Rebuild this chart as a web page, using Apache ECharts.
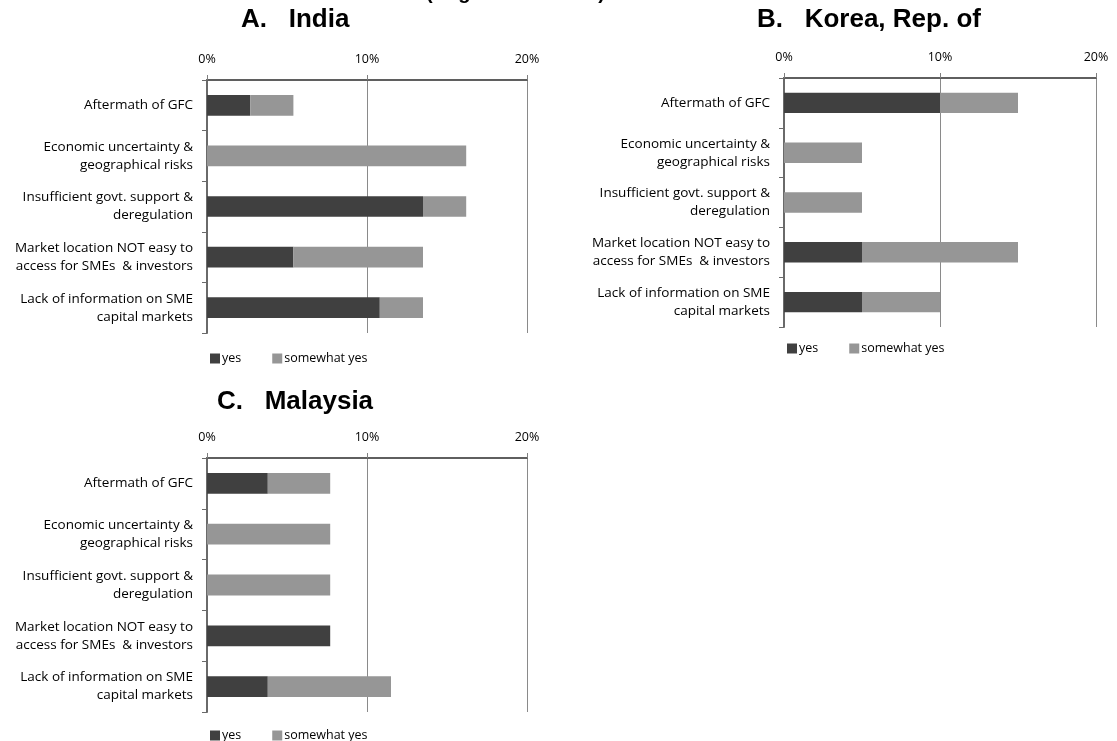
<!DOCTYPE html>
<html>
<head>
<meta charset="utf-8">
<script src="https://cdn.jsdelivr.net/npm/echarts@6/dist/echarts.min.js"></script>
<style>html,body{margin:0;padding:0;background:#fff;}#c{width:1117px;height:741px;}</style>
</head>
<body>
<div id="c"></div>
<script>
const categories = [
  'Aftermath of GFC',
  'Economic uncertainty &\ngeographical risks',
  'Insufficient govt. support &\nderegulation',
  'Market location NOT easy to\naccess for SMEs  & investors',
  'Lack of information on SME\ncapital markets'
];
const panelTitles = ['A.   India', 'B.   Korea, Rep. of', 'C.   Malaysia'];
const seriesNames = ['yes', 'somewhat yes'];
const xTicks = [0, 10, 20];
const indiaYes = [2.7, 0, 13.5, 5.4, 10.8];
const indiaSomewhat = [2.7, 16.2, 2.7, 8.1, 2.7];
const koreaYes = [10, 0, 0, 5, 5];
const koreaSomewhat = [5, 5, 5, 10, 5];
const malaysiaYes = [3.8, 0, 0, 7.7, 3.8];
const malaysiaSomewhat = [3.9, 7.7, 7.7, 0, 7.7];

const FONT = 'Liberation Sans, Arial, sans-serif';
const LFONT = 'Open Sans, Liberation Sans, sans-serif';
const DARK = '#404040', LIGHT = '#969696';

const grids = [
  {left: 207, top: 80, width: 320, height: 253},
  {left: 784, top: 78, width: 312, height: 249},
  {left: 207, top: 458, width: 320, height: 254}
];

function xAxis(i) {
  return {
    gridIndex: i, type: 'value', position: 'top',
    min: xTicks[0], max: xTicks[xTicks.length - 1], interval: xTicks[1] - xTicks[0],
    axisLine: {show: true, lineStyle: {color: '#5f5f5f', width: 2}},
    axisTick: {show: true, length: 5, lineStyle: {color: '#7f7f7f'}},
    splitLine: {show: true, lineStyle: {color: '#8a8a8a', width: 1}},
    axisLabel: {formatter: '{value}%', fontSize: 12.5, color: '#000', fontFamily: LFONT, margin: 14}
  };
}
function yAxis(i) {
  return {
    gridIndex: i, type: 'category', data: categories, inverse: true,
    axisLine: {show: true, lineStyle: {color: '#6a6a6a', width: 2}},
    axisTick: {show: true, length: 5, lineStyle: {color: '#6a6a6a'}},
    axisLabel: {fontSize: 13.5, color: '#000', fontFamily: LFONT, margin: 14, lineHeight: 18, align: 'right'}
  };
}
function bars(i, yes, sw) {
  return [
    {name: seriesNames[0], type: 'bar', stack: 's' + i, xAxisIndex: i, yAxisIndex: i, data: yes,
     barWidth: '41%', itemStyle: {color: DARK}, silent: true},
    {name: seriesNames[1], type: 'bar', stack: 's' + i, xAxisIndex: i, yAxisIndex: i, data: sw,
     barWidth: '41%', itemStyle: {color: LIGHT}, silent: true}
  ];
}
function legend(left, top) {
  return {
    left: left, top: top, data: seriesNames, icon: 'rect', itemWidth: 10, itemHeight: 10,
    itemGap: 31, selectedMode: false,
    textStyle: {fontSize: 12.5, color: '#000', fontFamily: LFONT, padding: [0, 0, 0, -3]}
  };
}
function title(text, left, top) {
  return {text: text, left: left, top: top, padding: 0,
    textStyle: {fontSize: 26, fontWeight: 'bold', color: '#000', fontFamily: FONT}};
}

const chart = echarts.init(document.getElementById('c'), null, {renderer: 'canvas'});
chart.setOption({
  animation: false,
  backgroundColor: '#fff',
  title: [
    title(panelTitles[0], 241, 7),
    title(panelTitles[1], 757, 7),
    title(panelTitles[2], 217, 389),
    {text: '(Negative reasons)', left: 426, top: -17, padding: 0,
     textStyle: {fontSize: 20, fontWeight: 'bold', color: '#000', fontFamily: FONT}}
  ],
  grid: grids.map(g => Object.assign({containLabel: false, outerBoundsMode: 'none'}, g)),
  xAxis: [xAxis(0), xAxis(1), xAxis(2)],
  yAxis: [yAxis(0), yAxis(1), yAxis(2)],
  legend: [legend(205, 347), legend(782, 337), legend(205, 724)],
  series: [].concat(bars(0, indiaYes, indiaSomewhat), bars(1, koreaYes, koreaSomewhat), bars(2, malaysiaYes, malaysiaSomewhat))
});
</script>
</body>
</html>
